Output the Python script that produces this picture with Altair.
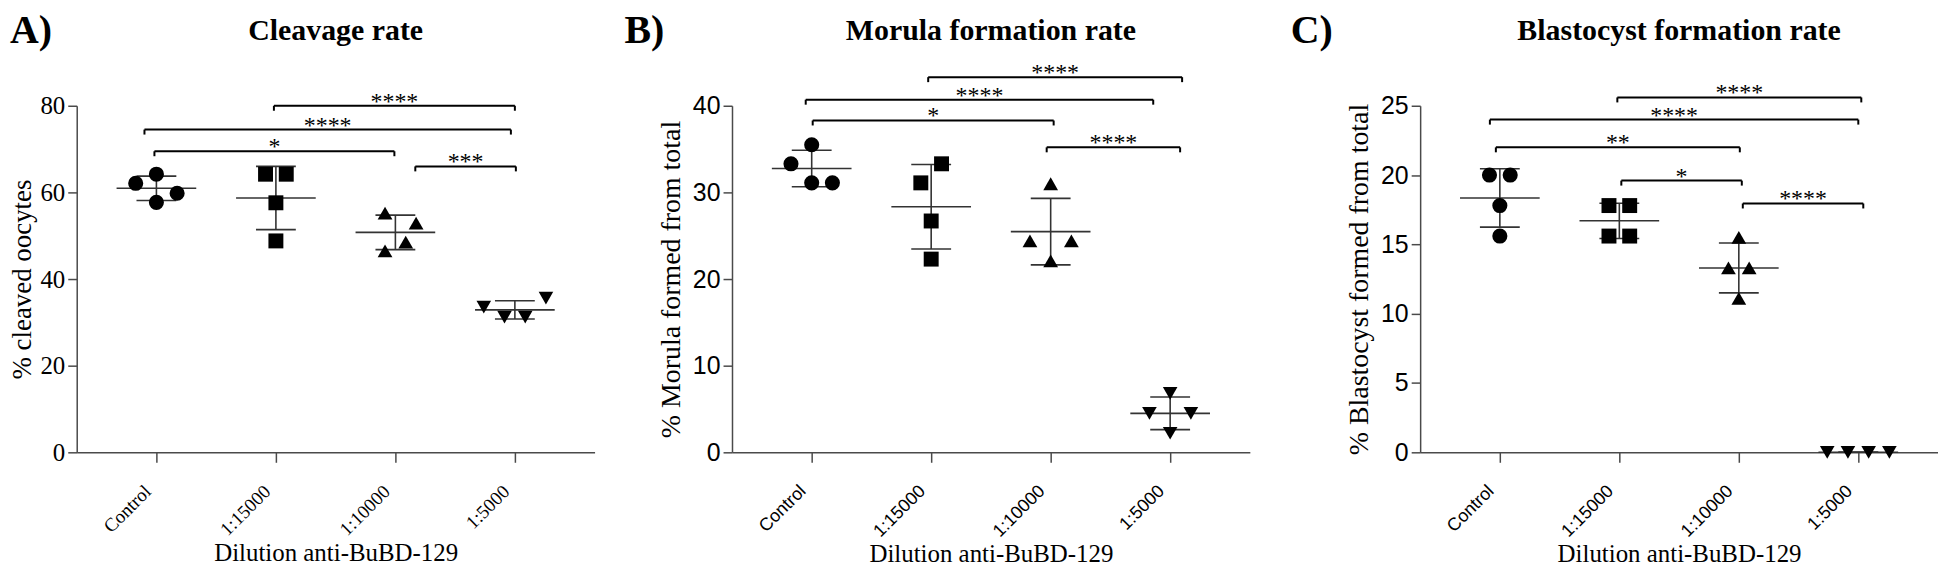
import altair as alt
import pandas as pd
import numpy as np

# ---------------- data ----------------
groups = ["Control", "1:15000", "1:10000", "1:5000"]
shapes = ["circle", "square", "triangle-up", "triangle-down"]

cleavage_values = [[64.2, 62.1, 59.8, 57.7],
                   [64.2, 64.2, 57.6, 48.8],
                   [55.2, 52.9, 48.5, 46.5],
                   [33.5, 35.6, 31.2, 31.2]]
morula_values = [[35.5, 33.3, 31.1, 31.1],
                 [33.3, 31.1, 26.7, 22.3],
                 [31.0, 24.4, 24.4, 22.1],
                 [6.8, 4.5, 4.5, 2.2]]
blasto_values = [[20.0, 20.0, 17.8, 15.6],
                 [17.8, 17.8, 15.6, 15.6],
                 [15.5, 13.3, 13.3, 11.1],
                 [0.0, 0.0, 0.0, 0.0]]

# significance comparisons: (from, to, bracket height, label)
cleavage_sig = [("1:15000", "1:5000", 80.0, "****"),
                ("Control", "1:5000", 74.5, "****"),
                ("Control", "1:10000", 69.5, "*"),
                ("1:10000", "1:5000", 66.0, "***")]
morula_sig = [("1:15000", "1:5000", 43.3, "****"),
              ("Control", "1:5000", 40.7, "****"),
              ("Control", "1:10000", 38.3, "*"),
              ("1:10000", "1:5000", 35.2, "****")]
blasto_sig = [("1:15000", "1:5000", 25.6, "****"),
              ("Control", "1:5000", 24.0, "****"),
              ("Control", "1:10000", 22.0, "**"),
              ("1:15000", "1:10000", 19.6, "*"),
              ("1:10000", "1:5000", 17.95, "****")]

# ---------------- layout only (scatter slots, bracket end nudges in px) ----------------
cleavage_slots = [[0, -2, 2, 0], [-1, 1, 0, 0], [-1, 2, 1, -1], [-3, 3, -1, 1]]
morula_slots = [[0, -2, 0, 2], [1, -1, 0, 0], [0, -2, 2, 0], [0, -2, 2, 0]]
blasto_slots = [[-1, 1, 0, 0], [-1, 1, -1, 1], [0, -1, 1, 0], [-3, -1, 1, 3]]
cleavage_nudge = [(-2, 0), (-12, -4), (-2, -1), (20, 1)]
morula_nudge = [(-3, 12), (-6, -17), (1, 3), (-4, 10)]
blasto_nudge = [(-2, 3), (-10, 0), (-4, 1), (2, 3), (4, 5)]

W = 520
H = 348
PAD = 0.667
STEP = W / (3 + 2 * PAD)
U = 1.0 / STEP
SLOT_PX = 10.4
SERIF = "Liberation Serif"
SANS = "Liberation Sans"
LINE = "#333333"
AXC = "#4a4a4a"
LETTER_Y = -63
TITLE_Y = -66


def panel(values, slots, sig, nudge, ymax, ystep, ytitle, title, letter,
          tick_font, letter_dx, ytitle_size, ytitle_pad, xlab_size, xtitle_pad):
    pts = []
    for gi, (vals, sl) in enumerate(zip(values, slots)):
        for v, s in zip(vals, sl):
            pts.append({"group": groups[gi], "x": gi + s * SLOT_PX * U, "y": v})
    pts = pd.DataFrame(pts)

    stats = []
    for gi, vals in enumerate(values):
        m = float(np.mean(vals))
        sd = float(np.std(vals, ddof=1))
        stats.append({"x": gi, "m": m, "lo": m - sd, "hi": m + sd,
                      "ml": gi - 40 * U, "mr": gi + 40 * U,
                      "cl": gi - 20 * U, "cr": gi + 20 * U})
    stats = pd.DataFrame(stats)

    d = 5.0 * ymax / H
    br = []
    for (a, b, yv, lab), (na, nb) in zip(sig, nudge):
        x1 = groups.index(a) + na * U
        x2 = groups.index(b) + nb * U
        br.append({"x1": x1, "x2": x2, "xm": (x1 + x2) / 2, "y": yv, "yd": yv - d, "lab": lab})
    br = pd.DataFrame(br)

    xs = alt.Scale(domain=[-PAD, 3 + PAD], nice=False, zero=False)
    ys = alt.Scale(domain=[0, ymax], nice=False, zero=True)
    label_expr = "['Control','1:15000','1:10000','1:5000'][round(datum.value)]"
    xaxis = alt.Axis(values=[0, 1, 2, 3], labelExpr=label_expr, labelAngle=-45,
                     labelAlign="right", labelBaseline="middle", labelPadding=26,
                     labelOffset=-9,
                     labelFont=tick_font, labelFontSize=xlab_size, labelColor="black",
                     tickSize=10, tickWidth=1.5, tickColor=AXC,
                     domainColor=AXC, domainWidth=1.5, grid=False,
                     title="Dilution anti-BuBD-129", titleFont=SERIF,
                     titleFontSize=25, titleFontWeight="normal", titleColor="black",
                     titlePadding=xtitle_pad)
    yaxis = alt.Axis(values=list(np.arange(0, ymax + 0.001, ystep)), labelFont=tick_font,
                     labelFontSize=25, labelColor="black", labelPadding=3,
                     tickSize=9, tickWidth=1.5, tickColor=AXC,
                     domainColor=AXC, domainWidth=1.5, grid=False,
                     title=ytitle, titleFont=SERIF, titleFontSize=ytitle_size,
                     titleFontWeight="normal", titleColor="black", titlePadding=ytitle_pad)

    def X(f):
        return alt.X(f, scale=xs, axis=xaxis)

    def Y(f):
        return alt.Y(f, scale=ys, axis=yaxis)

    mean_l = alt.Chart(stats).mark_rule(color=LINE, strokeWidth=1.6).encode(
        x=X("ml:Q"), x2="mr:Q", y=Y("m:Q"))
    cap_hi = alt.Chart(stats).mark_rule(color=LINE, strokeWidth=1.6).encode(
        x=X("cl:Q"), x2="cr:Q", y=Y("hi:Q"))
    cap_lo = alt.Chart(stats).mark_rule(color=LINE, strokeWidth=1.6).encode(
        x=X("cl:Q"), x2="cr:Q", y=Y("lo:Q"))
    vert = alt.Chart(stats).mark_rule(color=LINE, strokeWidth=1.6).encode(
        x=X("x:Q"), y=Y("lo:Q"), y2="hi:Q")

    points = alt.Chart(pts).mark_point(filled=True, opacity=1, color="black").encode(
        x=X("x:Q"), y=Y("y:Q"),
        shape=alt.Shape("group:N", scale=alt.Scale(domain=groups, range=shapes), legend=None),
        size=alt.Size("group:N", scale=alt.Scale(domain=groups, range=[230, 215, 270, 270]),
                      legend=None))

    bh = alt.Chart(br).mark_rule(color="black", strokeWidth=2).encode(
        x=X("x1:Q"), x2="x2:Q", y=Y("y:Q"))
    bl = alt.Chart(br).mark_rule(color="black", strokeWidth=2).encode(
        x=X("x1:Q"), y=Y("y:Q"), y2="yd:Q")
    brr = alt.Chart(br).mark_rule(color="black", strokeWidth=2).encode(
        x=X("x2:Q"), y=Y("y:Q"), y2="yd:Q")
    bt = alt.Chart(br).mark_text(font=SERIF, fontSize=24, baseline="alphabetic",
                                 align="center", dy=3, color="black").encode(
        x=X("xm:Q"), y=Y("y:Q"), text="lab:N")

    ttl = alt.Chart(pd.DataFrame({"t": [title]})).mark_text(
        font=SERIF, fontSize=30, fontWeight="bold", align="center",
        baseline="alphabetic", color="black").encode(
        x=alt.value(W / 2), y=alt.value(TITLE_Y), text="t:N")
    let = alt.Chart(pd.DataFrame({"t": [letter]})).mark_text(
        font=SERIF, fontSize=40, fontWeight="bold", align="left",
        baseline="alphabetic", color="black").encode(
        x=alt.value(letter_dx), y=alt.value(LETTER_Y), text="t:N")

    return alt.layer(mean_l, cap_hi, cap_lo, vert, points, bh, bl, brr, bt, ttl, let).properties(
        width=W, height=H)


pa = panel(cleavage_values, cleavage_slots, cleavage_sig, cleavage_nudge, 80, 20,
           "% cleaved oocytes", "Cleavage rate", "A)", SERIF, -67, 27, 3, 19, 2)
pb = panel(morula_values, morula_slots, morula_sig, morula_nudge, 40, 10,
           "% Morula formed from total", "Morula formation rate", "B)", SANS, -108, 28, 7, 18, 1)
pc = panel(blasto_values, blasto_slots, blasto_sig, blasto_nudge, 25, 5,
           "% Blastocyst formed from total", "Blastocyst formation rate", "C)", SANS, -130, 28, 7, 18, 1)

chart = alt.hconcat(alt.hconcat(pa, pb, spacing=30), pc, spacing=41).properties(
    padding={"left": 1, "top": 2, "right": 0, "bottom": 0}, background="white"
).configure_view(stroke=None)

chart.save("out.html", embed_options={"renderer": "svg", "actions": False})
